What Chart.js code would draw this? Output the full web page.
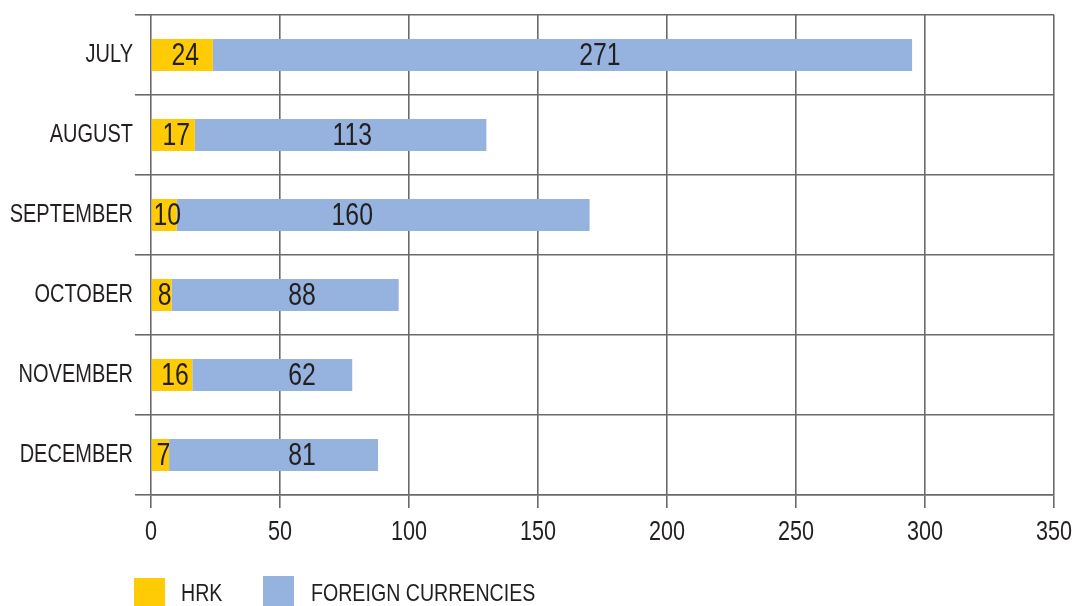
<!DOCTYPE html>
<html><head><meta charset="utf-8">
<script src="https://cdn.jsdelivr.net/npm/chart.js@4.4.1/dist/chart.umd.min.js"></script>
<style>
html,body{margin:0;padding:0;background:#fff;}
#wrap{position:relative;width:1077px;height:606px;overflow:hidden;}
canvas{position:absolute;left:0;top:0;}
.sw{position:absolute;}
.lt{position:absolute;font-family:"Liberation Sans",Arial,sans-serif;font-size:24.5px;line-height:24px;color:#231f20;white-space:nowrap;transform:scaleX(0.8);transform-origin:0 0;}
</style></head>
<body><div id="wrap"><canvas id="c" width="1077" height="606"></canvas><div id="legend"></div></div>
<script>
const categories = ['JULY','AUGUST','SEPTEMBER','OCTOBER','NOVEMBER','DECEMBER'];
const seriesNames = ['HRK','FOREIGN CURRENCIES'];
const hrkValues = [24,17,10,8,16,7];
const foreignValues = [271,113,160,88,62,81];
const xTicks = [0,50,100,150,200,250,300,350];
// where the value labels of the foreign series sit, in axis units
const foreignLabelAnchors = [174,78,78,58.5,58.5,58.5];

const FONT = '"Liberation Sans",Arial,sans-serif';
const TEXT = '#231f20';
const GRID = '#6a6a6a';
const colors = ['#ffcb05','#95b3de'];
const NARROW = 0.8;

const canvas = document.getElementById('c');
const ctx2d = canvas.getContext('2d');
// draw all canvas text horizontally condensed (narrow face look)
const origFill = ctx2d.fillText.bind(ctx2d);
ctx2d.fillText = function(text, x, y, maxWidth){
  this.save();
  this.translate(x, y);
  this.scale(NARROW, 1);
  origFill(text, 0, 0);
  this.restore();
};

const labelPlugin = {
  id:'valueLabels',
  afterDatasetsDraw(chart){
    const ctx = chart.ctx;
    const xs = chart.scales.x;
    ctx.save();
    ctx.font = '31px ' + FONT;
    ctx.fillStyle = TEXT;
    ctx.textAlign = 'center';
    ctx.textBaseline = 'middle';
    chart.data.datasets.forEach((ds, di) => {
      const meta = chart.getDatasetMeta(di);
      meta.data.forEach((bar, i) => {
        let x;
        if (di === 0) x = (bar.base + bar.x) / 2 + 3;
        else x = xs.getPixelForValue(foreignLabelAnchors[i]);
        ctx.fillText(String(ds.data[i]), x, bar.y + 1);
      });
    });
    ctx.restore();
  }
};

const chart = new Chart(canvas, {
  type:'bar',
  data:{
    labels:categories,
    datasets:[
      {label:seriesNames[0], data:hrkValues, backgroundColor:colors[0], borderWidth:0},
      {label:seriesNames[1], data:foreignValues, backgroundColor:colors[1], borderWidth:0}
    ]
  },
  options:{
    indexAxis:'y',
    responsive:false,
    animation:false,
    devicePixelRatio:1,
    layout:{padding:{top:15,right:23,bottom:0,left:0}},
    datasets:{bar:{categoryPercentage:1, barPercentage:0.4}},
    plugins:{legend:{display:false}, tooltip:{enabled:false}},
    scales:{
      x:{
        type:'linear', min:xTicks[0], max:xTicks[xTicks.length-1], stacked:true,
        afterBuildTicks(s){ s.ticks = xTicks.map(v=>({value:v})); },
        afterFit(s){ s.height = 111; s.paddingLeft = 0; s.paddingRight = 0; },
        grid:{color:GRID, lineWidth:1.6, tickLength:13, drawTicks:true},
        border:{color:GRID, width:1.6},
        ticks:{font:{family:FONT,size:27}, color:TEXT, padding:8, maxRotation:0}
      },
      y:{
        type:'category', stacked:true, offset:true,
        afterFit(s){ s.width = 151; s.paddingTop = 0; s.paddingBottom = 0; },
        grid:{offset:true, color:GRID, lineWidth:1.6, tickLength:16},
        border:{display:false},
        ticks:{font:{family:FONT,size:25}, color:TEXT, padding:2}
      }
    }
  },
  plugins:[labelPlugin]
});

// legend
const lg = document.getElementById('legend');
const swPos = [{l:134,t:578,w:31,h:28,tx:181},{l:263,t:576,w:31,h:30,tx:311}];
seriesNames.forEach((n,i)=>{
  const b=document.createElement('div'); b.className='sw';
  b.style.cssText=`left:${swPos[i].l}px;top:${swPos[i].t}px;width:${swPos[i].w}px;height:${swPos[i].h}px;background:${colors[i]}`;
  lg.appendChild(b);
  const t=document.createElement('div'); t.className='lt'; t.textContent=n;
  t.style.left=swPos[i].tx+'px'; t.style.top='581px';
  lg.appendChild(t);
});
</script></body></html>
